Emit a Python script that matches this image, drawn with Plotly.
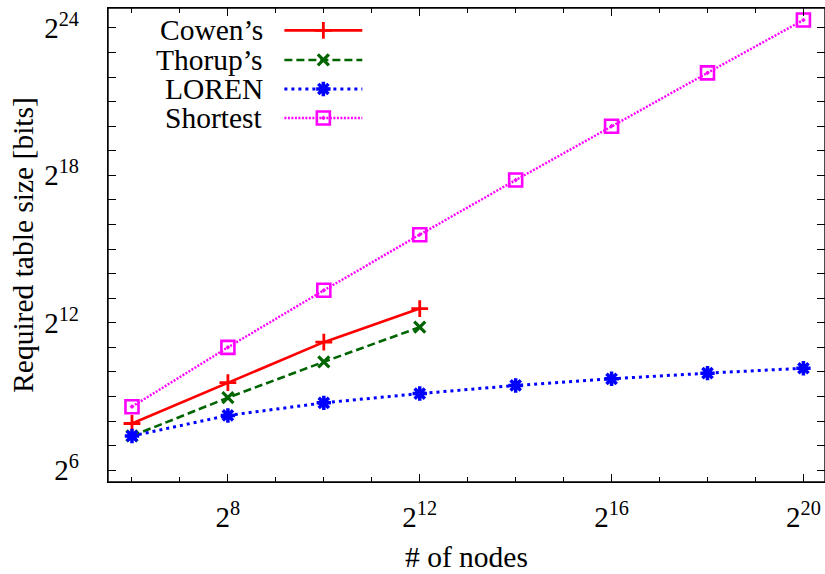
import plotly.graph_objects as go

# ---- data ----
nodes_all = [2**6, 2**8, 2**10, 2**12, 2**14, 2**16, 2**18, 2**20]
nodes_small = [2**6, 2**8, 2**10, 2**12]

cowen = [239, 755, 2370, 6120]
thorup = [168, 495, 1360, 3615]
loren = [168, 300, 428, 556, 699, 843, 989, 1136]
shortest = [384, 2048, 10240, 49152, 229376, 1048576, 4718592, 20971520]

series_names = ["Cowen\u2019s", "Thorup\u2019s", "LOREN", "Shortest"]
x_tick_exps = [8, 12, 16, 20]
y_tick_exps = [6, 12, 18, 24]
x_minor_exps = list(range(6, 21))
y_minor_exps = list(range(6, 25))

# ---- styles ----
FONT = "Liberation Serif"
styles = [
    dict(color="#ff0000", dash="solid", width=2.6, symbol="cross-thin-open", msize=12, mlw=2.8),
    dict(color="#006400", dash="8px,4px", width=2.6, symbol="x-thin-open", msize=11, mlw=3.2),
    dict(color="#0000ff", dash="3px,4px", width=3, symbol="asterisk-open", msize=12, mlw=3.5),
    dict(color="#ff00ff", dash="2px,1.5px", width=2.4, symbol="square-open-dot", msize=13, mlw=2.6),
]

xs = [nodes_small, nodes_small, nodes_all, nodes_all]
ys = [cowen, thorup, loren, shortest]

fig = go.Figure()
for name, x, y, st in zip(series_names, xs, ys, styles):
    fig.add_trace(go.Scatter(
        x=x, y=y, mode="lines+markers", name=name, showlegend=False,
        line=dict(color=st["color"], dash=st["dash"], width=st["width"]),
        marker=dict(symbol=st["symbol"], size=st["msize"], color=st["color"],
                    line=dict(color=st["color"], width=st["mlw"])),
        xaxis="x", yaxis="y",
    ))

PLOT_L, PLOT_R, PLOT_T, PLOT_B = 107.5, 825.0, 8.3, 482.5   # window pixels
key_rows = [30.7, 60.3, 89.3, 118.3]
key_text_right = 265
key_line = (284, 362)
key_mark = 323
for name, st, ry in zip(series_names, styles, key_rows):
    fig.add_trace(go.Scatter(
        x=[key_line[0], key_mark, key_line[1]], y=[ry, ry, ry],
        mode="lines", showlegend=False, hoverinfo="skip",
        line=dict(color=st["color"], dash=st["dash"], width=st["width"]),
        xaxis="x2", yaxis="y2",
    ))
    fig.add_trace(go.Scatter(
        x=[key_mark], y=[ry], mode="markers", showlegend=False, hoverinfo="skip",
        marker=dict(symbol=st["symbol"], size=st["msize"], color=st["color"],
                    line=dict(color=st["color"], width=st["mlw"])),
        xaxis="x2", yaxis="y2",
    ))
    fig.add_annotation(x=key_text_right, y=ry, xref="x2", yref="y2", text=name,
                       showarrow=False, xanchor="right", yanchor="middle",
                       font=dict(family=FONT, size=29.5, color="black"))

LOG2 = 0.30102999566
X_RANGE = [5.5 * LOG2, 20.45 * LOG2]
Y_RANGE = [5.52 * LOG2, 24.81 * LOG2]
tick_style = dict(ticks="inside", ticklen=8, tickwidth=1.3, tickcolor="black")
minor_x = dict(tickvals=[2**e for e in x_minor_exps], ticks="inside",
               ticklen=4.5, tickwidth=1.2, tickcolor="black")
minor_y = dict(tickvals=[2**e for e in y_minor_exps], ticks="inside",
               ticklen=4.5, tickwidth=1.2, tickcolor="black")
axis_common = dict(
    type="log", showgrid=False, zeroline=False, showline=True, linecolor="black",
    linewidth=1.4, **tick_style,
    mirror="allticks", tickmode="array", automargin=False, ticklabeloverflow="allow",
    tickfont=dict(family=FONT, size=29, color="black"),
)

# top axis carrying the mirrored ticks explicitly
fig.add_trace(go.Scatter(x=[nodes_all[0]], y=[shortest[0]], mode="markers",
                         marker=dict(opacity=0), showlegend=False, hoverinfo="skip",
                         xaxis="x3", yaxis="y"))

# frame around the plot area
fig.add_shape(type="rect", xref="paper", yref="paper", x0=0, x1=1, y0=0, y1=1,
              line=dict(color="black", width=1.4), layer="above")

fig.update_layout(
    width=825, height=574,
    margin=dict(l=PLOT_L, r=825 - PLOT_R, t=PLOT_T, b=574 - PLOT_B),
    paper_bgcolor="white", plot_bgcolor="white",
    font=dict(family=FONT, color="black"),
    xaxis=dict(
        **axis_common,
        range=X_RANGE,
        tickvals=[2**e for e in x_tick_exps],
        ticktext=[f"2<sup>{e}</sup>" for e in x_tick_exps],
        minor=minor_x,
        ticklabelstandoff=9,
        title=dict(text="# of nodes", font=dict(family=FONT, size=29.5), standoff=14),
    ),
    xaxis3=dict(
        type="log", overlaying="x", side="top", range=X_RANGE, showgrid=False,
        zeroline=False, showline=True, linecolor="black", linewidth=1.4,
        **tick_style, tickmode="array", tickvals=[2**e for e in x_tick_exps],
        showticklabels=False, minor=minor_x, automargin=False, fixedrange=True,
    ),
    yaxis=dict(
        **axis_common,
        range=Y_RANGE,
        tickvals=[2**e for e in y_tick_exps],
        ticktext=[f"2<sup>{e}</sup>" for e in y_tick_exps],
        minor=minor_y,
        ticklabelstandoff=22,
        title=dict(text="Required table size [bits]", font=dict(family=FONT, size=29.5), standoff=1),
    ),
    xaxis2=dict(overlaying="x", range=[PLOT_L, PLOT_R], visible=False, fixedrange=True),
    yaxis2=dict(overlaying="y", range=[PLOT_B, PLOT_T], visible=False, fixedrange=True),
    showlegend=False,
)

fig.write_html(
    "out.html",
    config={"displayModeBar": False},
    post_script="document.body.style.margin='0';document.body.style.overflow='hidden';",
)
